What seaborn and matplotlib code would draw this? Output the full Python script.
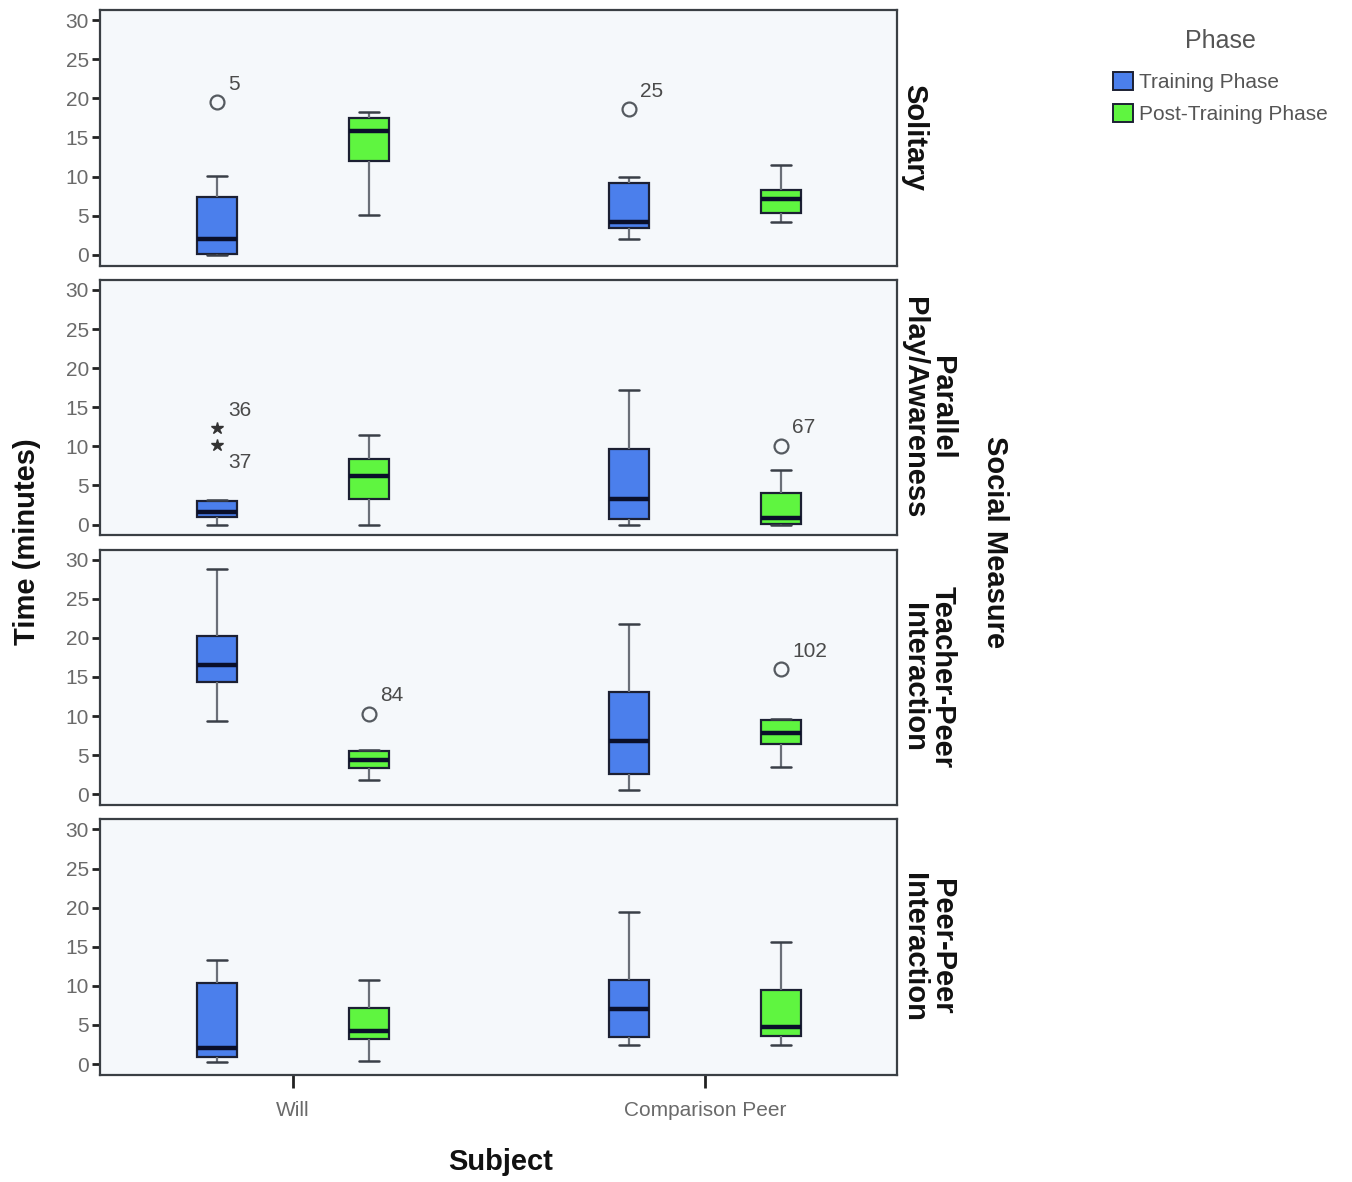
import numpy as np
import pandas as pd
import matplotlib
matplotlib.use("Agg")
import matplotlib.pyplot as plt
from matplotlib.patches import Patch
import seaborn as sns

# Box summaries: [lower whisker, Q1, median, Q3, upper whisker]
# order of rows: Will/Training, Will/Post, Comparison Peer/Training, Comparison Peer/Post
subjects = ["Will", "Comparison Peer"]
phases = ["Training Phase", "Post-Training Phase"]
measures = ["Solitary", "Parallel\nPlay/Awareness", "Teacher-Peer\nInteraction", "Peer-Peer\nInteraction"]

solitary = [[0.0, 0.1, 2.0, 7.4, 10.1],
            [5.1, 12.0, 15.8, 17.5, 18.3],
            [2.0, 3.4, 4.2, 9.2, 9.9],
            [4.2, 5.4, 7.1, 8.3, 11.5]]
parallel = [[0.0, 0.9, 1.6, 3.0, 3.1],
            [0.0, 3.3, 6.2, 8.4, 11.5],
            [0.0, 0.7, 3.2, 9.7, 17.2],
            [0.0, 0.1, 0.8, 4.0, 7.0]]
teacher_peer = [[9.4, 14.3, 16.5, 20.2, 28.8],
                [1.8, 3.3, 4.4, 5.5, 5.6],
                [0.6, 2.6, 6.8, 13.1, 21.8],
                [3.5, 6.4, 7.9, 9.5, 9.6]]
peer_peer = [[0.2, 0.9, 2.0, 10.4, 13.3],
             [0.4, 3.2, 4.2, 7.2, 10.7],
             [2.4, 3.5, 7.0, 10.8, 19.4],
             [2.4, 3.6, 4.7, 9.5, 15.6]]

# Outliers: (measure index, subject, phase, value, case label, marker, label above/below)
outliers = [
    (0, "Will", "Training Phase", 19.5, "5", "o", 1),
    (0, "Comparison Peer", "Training Phase", 18.6, "25", "o", 1),
    (1, "Will", "Training Phase", 12.3, "36", "*", 1),
    (1, "Will", "Training Phase", 10.2, "37", "*", -1),
    (1, "Comparison Peer", "Post-Training Phase", 10.1, "67", "o", 1),
    (2, "Will", "Post-Training Phase", 10.3, "84", "o", 1),
    (2, "Comparison Peer", "Post-Training Phase", 16.0, "102", "o", 1),
]

colors = {"Training Phase": "#4b7fec", "Post-Training Phase": "#5ff540"}

# long table, 5 values per box so the quartiles come out exactly
rows = []
for m, summ in zip(measures, [solitary, parallel, teacher_peer, peer_peer]):
    k = 0
    for s in subjects:
        for p in phases:
            for v in summ[k]:
                rows.append((m, s, p, v))
            k += 1
df = pd.DataFrame(rows, columns=["measure", "subject", "phase", "time"])

sns.set_style("ticks")
plt.rcParams["font.family"] = ["Liberation Sans", "DejaVu Sans"]

fig, axes = plt.subplots(4, 1, figsize=(13.52, 11.82), dpi=100, sharex=True)
fig.subplots_adjust(left=100 / 1352, right=897 / 1352, top=1 - 10 / 1182,
                    bottom=1 - 1075 / 1182, hspace=0.055)

box_width = 0.738
offsets = {phases[0]: -box_width / 4, phases[1]: box_width / 4}

for i, (ax, m) in enumerate(zip(axes, measures)):
    sns.boxplot(data=df[df.measure == m], x="subject", y="time", hue="phase",
                order=subjects, hue_order=phases, palette=colors, ax=ax,
                width=box_width, gap=0.737, whis=(0, 100), fliersize=0,
                saturation=1, linecolor="#1c2033", linewidth=1.6, legend=False,
                whiskerprops=dict(color="#6a6f78", linewidth=1.6),
                capprops=dict(color="#3a3f48", linewidth=1.8),
                medianprops=dict(color="#0a0f2a", linewidth=3.2))
    for (mi, s, p, v, lab, mk, d) in outliers:
        if mi != i:
            continue
        x = subjects.index(s) + offsets[p]
        if mk == "o":
            ax.plot(x, v, marker="o", ms=10, mfc="none", mec="#555a60", mew=1.6)
        else:
            ax.plot(x, v, marker="*", ms=9, color="#333")
        ax.annotate(lab, (x, v), xytext=(8, 13 * d), textcoords="offset points",
                    ha="left", va="center", fontsize=15, color="#4a4a4a")

    ax.set_ylim(-1.4, 31.3)
    ax.set_xlim(-0.468, 1.466)
    ax.set_yticks(range(0, 31, 5))
    ax.set_facecolor("#f5f8fb")
    ax.set_xlabel("")
    ax.set_ylabel("")
    for sp in ax.spines.values():
        sp.set_visible(True)
        sp.set_color("#3a3f44")
        sp.set_linewidth(1.6)
    ax.tick_params(axis="y", length=6, width=2, color="#222", labelsize=15,
                   labelcolor="#6a6a6a", pad=2)
    ax.tick_params(axis="x", length=0, labelsize=15, labelcolor="#6a6a6a")
    ax.text(1.004, 0.5, m, transform=ax.transAxes, rotation=-90, ha="left",
            va="center", fontsize=21, fontweight="bold", linespacing=1.0,
            multialignment="center", color="#111")

axes[-1].tick_params(axis="x", length=9, width=2, color="#222", pad=10)
axes[-1].set_xticks(range(len(subjects)))
axes[-1].set_xticklabels(subjects)

fig.text(0.37, 1 - 1162 / 1182, "Subject", ha="center", va="center",
         fontsize=21, fontweight="bold", color="#111")
fig.text(27 / 1352, 1 - 542 / 1182, "Time (minutes)", rotation=90, ha="center",
         va="center", fontsize=21, fontweight="bold", color="#111")
fig.text(995 / 1352, 1 - 542 / 1182, "Social Measure", rotation=-90, ha="center",
         va="center", fontsize=21, fontweight="bold", color="#111")

handles = [Patch(facecolor=colors[p], edgecolor="#1c2033", linewidth=1.4, label=p)
           for p in phases]
leg = fig.legend(handles=handles, title="Phase", loc="upper left",
                 bbox_to_anchor=(1094 / 1352, 1 - 10 / 1182), frameon=False,
                 fontsize=15, title_fontsize=18, handlelength=0.95, handleheight=0.95,
                 handletextpad=0.3, labelspacing=0.55, labelcolor="#555")
leg.get_title().set_color("#555")
leg._legend_box.sep = 14

fig.savefig("out.png", dpi=100)
